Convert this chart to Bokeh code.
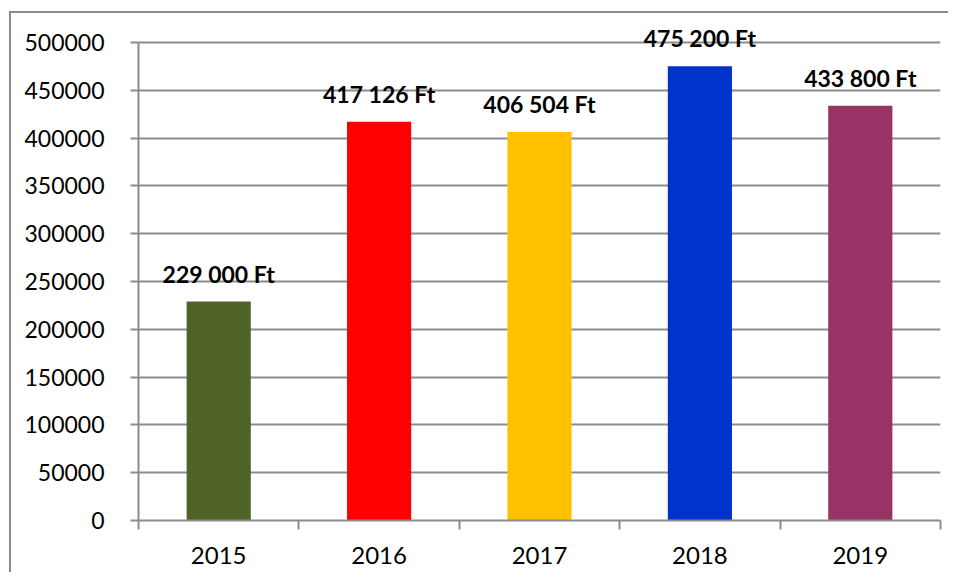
from bokeh.plotting import figure
from bokeh.models import (Range1d, FixedTicker, ColumnDataSource, LabelSet)
from bokeh.core.properties import value
from bokeh.embed import file_html
from bokeh.resources import INLINE

years = ["2015", "2016", "2017", "2018", "2019"]
values = [229000, 417126, 406504, 475200, 433800]
labels = ["229 000 Ft", "417 126 Ft", "406 504 Ft", "475 200 Ft", "433 800 Ft"]
colors = ["#4F6228", "#FF0000", "#FFC000", "#0033CC", "#993366"]
y_max = 500000
y_ticks = list(range(0, y_max + 1, 50000))

xs = [i + 0.5 for i in range(len(years))]
src = ColumnDataSource(dict(x=xs, top=values, label=labels, color=colors))

FONT = "Lato"
GRAY = "#8c8c8c"

# layout (canvas pixels)
frame_top, grid_top, frame_bottom = 14, 42, 520
y_end = y_max * (frame_bottom - frame_top) / (frame_bottom - grid_top)

p = figure(width=948, height=572, output_backend="svg", toolbar_location=None,
           x_range=Range1d(0, len(years)), y_range=Range1d(0, y_end),
           min_border_left=138, min_border_right=8, min_border_top=frame_top,
           min_border_bottom=572 - frame_bottom)
p.outline_line_color = None
p.background_fill_color = "white"
p.border_fill_color = None
# outer chart border (only left/top edges visible), drawn behind the transparent canvas
p.styles = {
    "background-color": "white",
    "background-image": f"linear-gradient({GRAY},{GRAY}), linear-gradient({GRAY},{GRAY})",
    "background-size": "2px 100%, 100% 2px",
    "background-position": "9px 11px, 9px 11px",
    "background-repeat": "no-repeat",
}

p.vbar(x="x", top="top", width=0.4, bottom=0, color="color", line_color=None, source=src)

p.add_layout(LabelSet(x="x", y="top", text="label", source=src, text_align="center",
                      text_baseline="alphabetic", y_offset=19, text_font=value(FONT),
                      text_font_style="bold", text_font_size="23px", text_color="black"))

# y axis
p.yaxis.ticker = FixedTicker(ticks=y_ticks)
p.yaxis.bounds = (0, y_max)
p.yaxis.formatter.use_scientific = False
p.yaxis.major_label_text_font = FONT
p.yaxis.major_label_text_font_size = "23px"
p.yaxis.major_label_text_color = "black"
p.yaxis.major_label_standoff = 26
p.yaxis.major_tick_out = 8
p.yaxis.major_tick_in = 0
p.yaxis.minor_tick_line_color = None
p.yaxis.axis_line_color = GRAY
p.yaxis.axis_line_width = 2
p.yaxis.major_tick_line_color = GRAY
p.yaxis.major_tick_line_width = 2

# x axis
p.xaxis.ticker = FixedTicker(ticks=xs, minor_ticks=list(range(len(years) + 1)))
p.xaxis.major_label_overrides = {x: y for x, y in zip(xs, years)}
p.xaxis.major_label_text_font = FONT
p.xaxis.major_label_text_font_size = "24px"
p.xaxis.major_label_text_color = "black"
p.xaxis.major_label_standoff = 17
p.xaxis.major_tick_out = 0
p.xaxis.major_tick_in = 0
p.xaxis.major_tick_line_color = None
p.xaxis.minor_tick_out = 9
p.xaxis.minor_tick_in = 0
p.xaxis.minor_tick_line_color = GRAY
p.xaxis.minor_tick_line_width = 2
p.xaxis.axis_line_color = GRAY
p.xaxis.axis_line_width = 2

p.xgrid.grid_line_color = None
p.ygrid.ticker = FixedTicker(ticks=y_ticks)
p.ygrid.bounds = (0, y_max)
p.ygrid.grid_line_color = GRAY
p.ygrid.grid_line_width = 2

open("out.html", "w").write(file_html(p, INLINE))
